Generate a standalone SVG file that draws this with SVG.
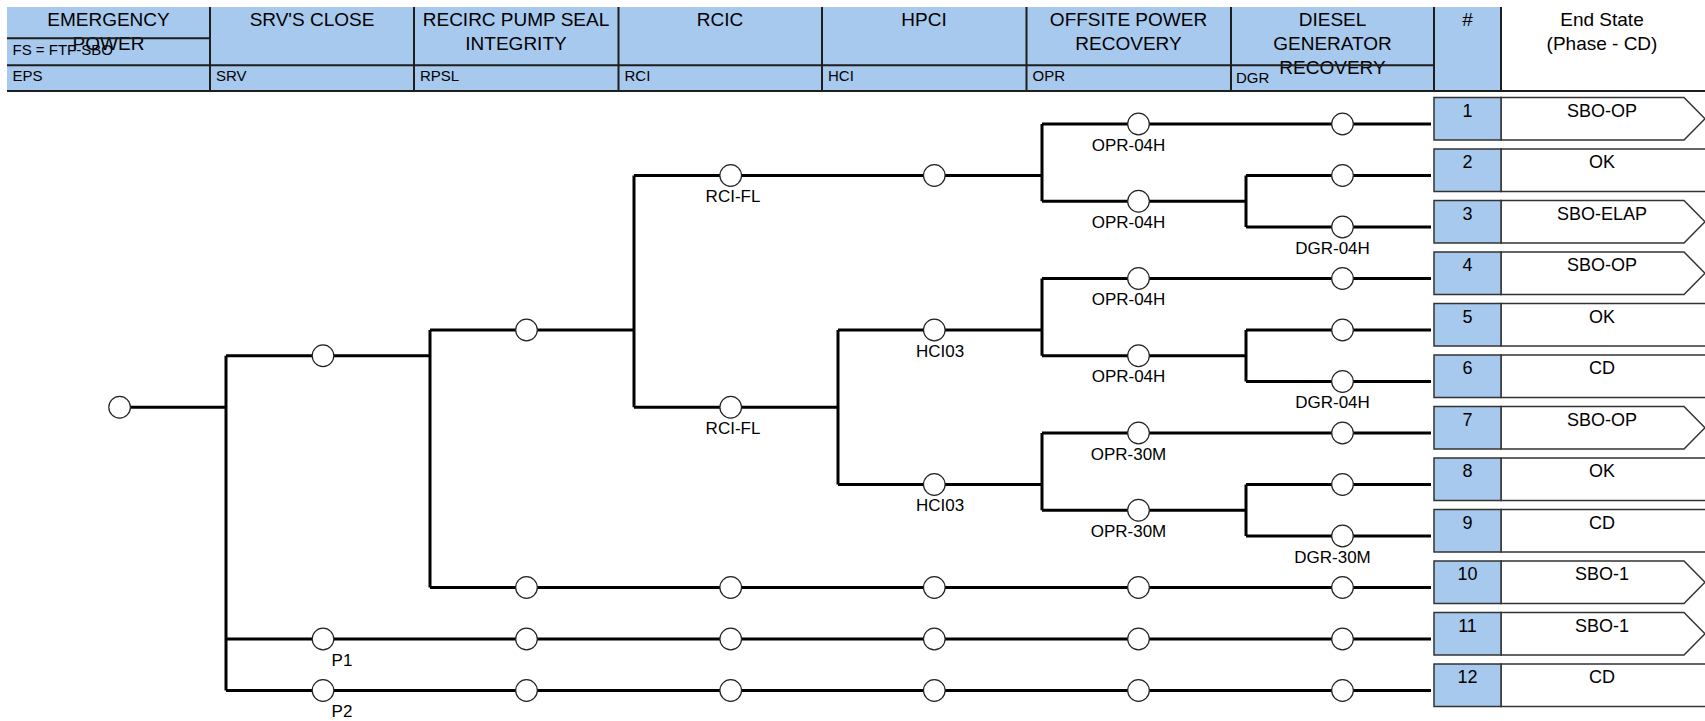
<svg xmlns="http://www.w3.org/2000/svg" width="1705" height="721" viewBox="0 0 1705 721">
<defs>
<style>
text{font-family:"Liberation Sans",Arial,sans-serif;fill:#000}
.h{font-size:19px;text-anchor:middle}
.s{font-size:15px}
.lb{font-size:17px;text-anchor:middle}
.es{font-size:18px;text-anchor:middle}
.hl{stroke:#1e1e1e;stroke-width:2;fill:none}
.c{stroke:#000;stroke-width:3;fill:none}
.n{fill:#fff;stroke:#222;stroke-width:1.2}
.blue{fill:#a7c9ee}
.box{stroke:#333;stroke-width:1.5}
.wb{fill:#fff;stroke:#333;stroke-width:1.5}
</style>
</defs>
<rect width="1705" height="721" fill="#fff"/>
<g id="header">
<rect class="blue" x="7" y="7" width="1494" height="84"/>
<text class="h" x="108.5" y="26">EMERGENCY</text>
<text class="h" x="108.5" y="50">POWER</text>
<text class="s" x="12.5" y="55">FS = FTF-SBO</text>
<text class="h" x="312" y="26">SRV'S CLOSE</text>
<text class="h" x="516" y="26">RECIRC PUMP SEAL</text>
<text class="h" x="516" y="50">INTEGRITY</text>
<text class="h" x="720" y="26">RCIC</text>
<text class="h" x="924" y="26">HPCI</text>
<text class="h" x="1128.5" y="26">OFFSITE POWER</text>
<text class="h" x="1128.5" y="50">RECOVERY</text>
<text class="h" x="1332.5" y="26">DIESEL</text>
<text class="h" x="1332.5" y="50">GENERATOR</text>
<text class="h" x="1332.5" y="74">RECOVERY</text>
<text class="h" x="1467.5" y="26">#</text>
<text class="h" x="1602" y="26">End State</text>
<text class="h" x="1602" y="50">(Phase - CD)</text>
<text class="s" x="12.5" y="81">EPS</text>
<text class="s" x="216" y="81">SRV</text>
<text class="s" x="420" y="81">RPSL</text>
<text class="s" x="624.5" y="81">RCI</text>
<text class="s" x="828" y="81">HCI</text>
<text class="s" x="1032.5" y="81">OPR</text>
<text class="s" x="1236" y="83">DGR</text>
<path class="hl" d="M7 38.3H210M7 65.3H1434M7 91H1705M210 7V91M414 7V91M618.5 7V91M822 7V91M1026.5 7V91M1231 7V91M1434 7V91M1501 7V91"/>
</g>
<g id="connectors">
<path class="c" d="M119.6 407.25H226M226 355.75V690.5M226 355.75H430M226 639H1431M226 690.5H1431"/>
<path class="c" d="M430 330V587.5M430 330H634M430 587.5H1431"/>
<path class="c" d="M634 175.5V407.25M634 175.5H1042M634 407.25H838"/>
<path class="c" d="M1042 124V201.25M1042 124H1431M1042 201.25H1246M1246 175.5V227M1246 175.5H1431M1246 227H1431"/>
<path class="c" d="M838 330V484.5M838 330H1042M838 484.5H1042"/>
<path class="c" d="M1042 278.5V355.75M1042 278.5H1431M1042 355.75H1246M1246 330V381.5M1246 330H1431M1246 381.5H1431"/>
<path class="c" d="M1042 433V510.25M1042 433H1431M1042 510.25H1246M1246 484.5V536M1246 484.5H1431M1246 536H1431"/>
</g>
<g id="node-root"><circle class="n" cx="119.6" cy="407.25" r="10.8"/></g>
<g id="node-srv-1"><circle class="n" cx="323" cy="355.75" r="10.8"/></g>
<g id="node-srv-p1"><circle class="n" cx="323" cy="639" r="10.8"/><text class="lb" x="342" y="665.5">P1</text></g>
<g id="node-srv-p2"><circle class="n" cx="323" cy="690.5" r="10.8"/><text class="lb" x="342" y="717">P2</text></g>
<g id="node-rpsl-1"><circle class="n" cx="526.5" cy="330" r="10.8"/></g>
<g id="node-rpsl-10"><circle class="n" cx="526.5" cy="587.5" r="10.8"/></g>
<g id="node-rpsl-11"><circle class="n" cx="526.5" cy="639" r="10.8"/></g>
<g id="node-rpsl-12"><circle class="n" cx="526.5" cy="690.5" r="10.8"/></g>
<g id="node-rci-1"><circle class="n" cx="730.7" cy="175.5" r="10.8"/><text class="lb" x="733" y="202">RCI-FL</text></g>
<g id="node-rci-2"><circle class="n" cx="730.7" cy="407.25" r="10.8"/><text class="lb" x="733" y="433.75">RCI-FL</text></g>
<g id="node-rci-10"><circle class="n" cx="730.7" cy="587.5" r="10.8"/></g>
<g id="node-rci-11"><circle class="n" cx="730.7" cy="639" r="10.8"/></g>
<g id="node-rci-12"><circle class="n" cx="730.7" cy="690.5" r="10.8"/></g>
<g id="node-hci-1"><circle class="n" cx="934.3" cy="175.5" r="10.8"/></g>
<g id="node-hci-2"><circle class="n" cx="934.3" cy="330" r="10.8"/><text class="lb" x="940" y="356.5">HCI03</text></g>
<g id="node-hci-3"><circle class="n" cx="934.3" cy="484.5" r="10.8"/><text class="lb" x="940" y="511">HCI03</text></g>
<g id="node-hci-10"><circle class="n" cx="934.3" cy="587.5" r="10.8"/></g>
<g id="node-hci-11"><circle class="n" cx="934.3" cy="639" r="10.8"/></g>
<g id="node-hci-12"><circle class="n" cx="934.3" cy="690.5" r="10.8"/></g>
<g id="node-opr-1"><circle class="n" cx="1138.5" cy="124" r="10.8"/><text class="lb" x="1128.5" y="150.5">OPR-04H</text></g>
<g id="node-opr-2"><circle class="n" cx="1138.5" cy="201.25" r="10.8"/><text class="lb" x="1128.5" y="227.75">OPR-04H</text></g>
<g id="node-opr-3"><circle class="n" cx="1138.5" cy="278.5" r="10.8"/><text class="lb" x="1128.5" y="305">OPR-04H</text></g>
<g id="node-opr-4"><circle class="n" cx="1138.5" cy="355.75" r="10.8"/><text class="lb" x="1128.5" y="382.25">OPR-04H</text></g>
<g id="node-opr-5"><circle class="n" cx="1138.5" cy="433" r="10.8"/><text class="lb" x="1128.5" y="459.5">OPR-30M</text></g>
<g id="node-opr-6"><circle class="n" cx="1138.5" cy="510.25" r="10.8"/><text class="lb" x="1128.5" y="536.75">OPR-30M</text></g>
<g id="node-opr-10"><circle class="n" cx="1138.5" cy="587.5" r="10.8"/></g>
<g id="node-opr-11"><circle class="n" cx="1138.5" cy="639" r="10.8"/></g>
<g id="node-opr-12"><circle class="n" cx="1138.5" cy="690.5" r="10.8"/></g>
<g id="node-dgr-1"><circle class="n" cx="1342.5" cy="124" r="10.8"/></g>
<g id="node-dgr-2"><circle class="n" cx="1342.5" cy="175.5" r="10.8"/></g>
<g id="node-dgr-3"><circle class="n" cx="1342.5" cy="227" r="10.8"/><text class="lb" x="1332.5" y="253.5">DGR-04H</text></g>
<g id="node-dgr-4"><circle class="n" cx="1342.5" cy="278.5" r="10.8"/></g>
<g id="node-dgr-5"><circle class="n" cx="1342.5" cy="330" r="10.8"/></g>
<g id="node-dgr-6"><circle class="n" cx="1342.5" cy="381.5" r="10.8"/><text class="lb" x="1332.5" y="408">DGR-04H</text></g>
<g id="node-dgr-7"><circle class="n" cx="1342.5" cy="433" r="10.8"/></g>
<g id="node-dgr-8"><circle class="n" cx="1342.5" cy="484.5" r="10.8"/></g>
<g id="node-dgr-9"><circle class="n" cx="1342.5" cy="536" r="10.8"/><text class="lb" x="1332.5" y="562.5">DGR-30M</text></g>
<g id="node-dgr-10"><circle class="n" cx="1342.5" cy="587.5" r="10.8"/></g>
<g id="node-dgr-11"><circle class="n" cx="1342.5" cy="639" r="10.8"/></g>
<g id="node-dgr-12"><circle class="n" cx="1342.5" cy="690.5" r="10.8"/></g>
<g id="end-1"><path class="wb" d="M1501 97.5H1684L1705 118.75L1684 140H1501Z"/><rect class="blue box" x="1434" y="97.5" width="67" height="42.5"/><text class="es" x="1467.5" y="116.5">1</text><text class="es" x="1602" y="116.5">SBO-OP</text></g>
<g id="end-2"><rect class="wb" x="1501" y="149" width="210" height="42.5"/><rect class="blue box" x="1434" y="149" width="67" height="42.5"/><text class="es" x="1467.5" y="168">2</text><text class="es" x="1602" y="168">OK</text></g>
<g id="end-3"><path class="wb" d="M1501 200.5H1684L1705 221.75L1684 243H1501Z"/><rect class="blue box" x="1434" y="200.5" width="67" height="42.5"/><text class="es" x="1467.5" y="219.5">3</text><text class="es" x="1602" y="219.5">SBO-ELAP</text></g>
<g id="end-4"><path class="wb" d="M1501 252H1684L1705 273.25L1684 294.5H1501Z"/><rect class="blue box" x="1434" y="252" width="67" height="42.5"/><text class="es" x="1467.5" y="271">4</text><text class="es" x="1602" y="271">SBO-OP</text></g>
<g id="end-5"><rect class="wb" x="1501" y="303.5" width="210" height="42.5"/><rect class="blue box" x="1434" y="303.5" width="67" height="42.5"/><text class="es" x="1467.5" y="322.5">5</text><text class="es" x="1602" y="322.5">OK</text></g>
<g id="end-6"><rect class="wb" x="1501" y="355" width="210" height="42.5"/><rect class="blue box" x="1434" y="355" width="67" height="42.5"/><text class="es" x="1467.5" y="374">6</text><text class="es" x="1602" y="374">CD</text></g>
<g id="end-7"><path class="wb" d="M1501 406.5H1684L1705 427.75L1684 449H1501Z"/><rect class="blue box" x="1434" y="406.5" width="67" height="42.5"/><text class="es" x="1467.5" y="425.5">7</text><text class="es" x="1602" y="425.5">SBO-OP</text></g>
<g id="end-8"><rect class="wb" x="1501" y="458" width="210" height="42.5"/><rect class="blue box" x="1434" y="458" width="67" height="42.5"/><text class="es" x="1467.5" y="477">8</text><text class="es" x="1602" y="477">OK</text></g>
<g id="end-9"><rect class="wb" x="1501" y="509.5" width="210" height="42.5"/><rect class="blue box" x="1434" y="509.5" width="67" height="42.5"/><text class="es" x="1467.5" y="528.5">9</text><text class="es" x="1602" y="528.5">CD</text></g>
<g id="end-10"><path class="wb" d="M1501 561H1684L1705 582.25L1684 603.5H1501Z"/><rect class="blue box" x="1434" y="561" width="67" height="42.5"/><text class="es" x="1467.5" y="580">10</text><text class="es" x="1602" y="580">SBO-1</text></g>
<g id="end-11"><path class="wb" d="M1501 612.5H1684L1705 633.75L1684 655H1501Z"/><rect class="blue box" x="1434" y="612.5" width="67" height="42.5"/><text class="es" x="1467.5" y="631.5">11</text><text class="es" x="1602" y="631.5">SBO-1</text></g>
<g id="end-12"><rect class="wb" x="1501" y="664" width="210" height="42.5"/><rect class="blue box" x="1434" y="664" width="67" height="42.5"/><text class="es" x="1467.5" y="683">12</text><text class="es" x="1602" y="683">CD</text></g>
</svg>
